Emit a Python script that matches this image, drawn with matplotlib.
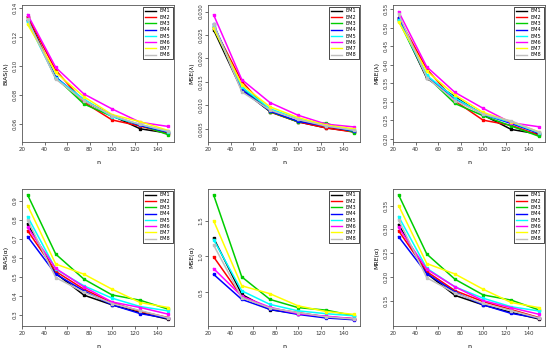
import matplotlib
matplotlib.use("Agg")
import matplotlib.pyplot as plt
from matplotlib.lines import Line2D

n = [25, 50, 75, 100, 125, 150]
methods = ["EM1", "EM2", "EM3", "EM4", "EM5", "EM6", "EM7", "EM8"]
colors = ["black", "#FF0000", "#00CD00", "#0000FF", "#00FFFF", "#FF00FF", "#FFFF00", "#BEBEBE"]

bias_lam = {
    "EM1": [0.1336, 0.0915, 0.0760, 0.0657, 0.0566, 0.0536],
    "EM2": [0.1340, 0.0970, 0.0749, 0.0627, 0.0585, 0.0531],
    "EM3": [0.1315, 0.0920, 0.0737, 0.0652, 0.0592, 0.0525],
    "EM4": [0.1313, 0.0922, 0.0764, 0.0657, 0.0589, 0.0542],
    "EM5": [0.1304, 0.0915, 0.0771, 0.0650, 0.0596, 0.0547],
    "EM6": [0.1354, 0.0989, 0.0806, 0.0703, 0.0611, 0.0582],
    "EM7": [0.1286, 0.0955, 0.0787, 0.0664, 0.0615, 0.0554],
    "EM8": [0.1320, 0.0909, 0.0760, 0.0657, 0.0596, 0.0549],
}
mse_lam = {
    "EM1": [0.0261, 0.0133, 0.0087, 0.0065, 0.0052, 0.0044],
    "EM2": [0.0268, 0.0151, 0.0086, 0.0065, 0.0052, 0.0043],
    "EM3": [0.0266, 0.0139, 0.0087, 0.0065, 0.0062, 0.0042],
    "EM4": [0.0273, 0.0134, 0.0088, 0.0066, 0.0056, 0.0045],
    "EM5": [0.0270, 0.0139, 0.0093, 0.0071, 0.0057, 0.0047],
    "EM6": [0.0293, 0.0155, 0.0106, 0.0079, 0.0060, 0.0054],
    "EM7": [0.0264, 0.0144, 0.0097, 0.0074, 0.0058, 0.0050],
    "EM8": [0.0273, 0.0129, 0.0090, 0.0070, 0.0056, 0.0047],
}
mre_lam = {
    "EM1": [0.523, 0.363, 0.313, 0.264, 0.225, 0.212],
    "EM2": [0.527, 0.388, 0.302, 0.250, 0.236, 0.209],
    "EM3": [0.519, 0.368, 0.295, 0.262, 0.234, 0.206],
    "EM4": [0.527, 0.368, 0.308, 0.266, 0.241, 0.214],
    "EM5": [0.520, 0.371, 0.310, 0.266, 0.244, 0.216],
    "EM6": [0.543, 0.394, 0.325, 0.282, 0.243, 0.232],
    "EM7": [0.515, 0.382, 0.318, 0.271, 0.246, 0.218],
    "EM8": [0.536, 0.365, 0.303, 0.266, 0.248, 0.217],
}
bias_alp = {
    "EM1": [0.777, 0.518, 0.404, 0.353, 0.312, 0.277],
    "EM2": [0.742, 0.528, 0.435, 0.365, 0.319, 0.286],
    "EM3": [0.930, 0.619, 0.488, 0.405, 0.377, 0.330],
    "EM4": [0.711, 0.514, 0.426, 0.353, 0.307, 0.282],
    "EM5": [0.816, 0.540, 0.453, 0.388, 0.344, 0.321],
    "EM6": [0.760, 0.544, 0.447, 0.368, 0.339, 0.304],
    "EM7": [0.874, 0.567, 0.514, 0.435, 0.365, 0.339],
    "EM8": [0.798, 0.496, 0.419, 0.360, 0.323, 0.284],
}
mse_alp = {
    "EM1": [1.257, 0.470, 0.256, 0.201, 0.155, 0.125],
    "EM2": [0.995, 0.435, 0.275, 0.215, 0.155, 0.130],
    "EM3": [1.860, 0.715, 0.400, 0.285, 0.250, 0.170],
    "EM4": [0.750, 0.400, 0.260, 0.190, 0.140, 0.115],
    "EM5": [1.234, 0.520, 0.330, 0.240, 0.200, 0.170],
    "EM6": [0.830, 0.445, 0.290, 0.200, 0.165, 0.130],
    "EM7": [1.500, 0.590, 0.480, 0.310, 0.230, 0.190],
    "EM8": [1.160, 0.425, 0.280, 0.215, 0.155, 0.125],
}
mre_alp = {
    "EM1": [0.310, 0.207, 0.161, 0.141, 0.125, 0.111],
    "EM2": [0.297, 0.211, 0.171, 0.148, 0.131, 0.114],
    "EM3": [0.3725, 0.248, 0.195, 0.162, 0.151, 0.130],
    "EM4": [0.2845, 0.207, 0.168, 0.141, 0.123, 0.113],
    "EM5": [0.327, 0.218, 0.179, 0.155, 0.137, 0.128],
    "EM6": [0.304, 0.216, 0.179, 0.150, 0.135, 0.121],
    "EM7": [0.350, 0.228, 0.206, 0.174, 0.146, 0.135],
    "EM8": [0.320, 0.198, 0.166, 0.144, 0.129, 0.113],
}

panels = [
    (bias_lam, "BIAS(λ)", (0.0475, 0.142), [0.06, 0.08, 0.10, 0.12, 0.14], "%.2f"),
    (mse_lam, "MSE(λ)", (0.0022, 0.0314), [0.005, 0.010, 0.015, 0.020, 0.025, 0.030], "%.3f"),
    (mre_lam, "MRE(λ)", (0.191, 0.561), [0.20, 0.25, 0.30, 0.35, 0.40, 0.45, 0.50, 0.55], "%.2f"),
    (bias_alp, "BIAS(α)", (0.242, 0.961), [0.3, 0.4, 0.5, 0.6, 0.7, 0.8, 0.9], "%.1f"),
    (mse_alp, "MSE(α)", (0.028, 1.944), [0.5, 1.0, 1.5], "%.1f"),
    (mre_alp, "MRE(α)", (0.0965, 0.385), [0.15, 0.20, 0.25, 0.30, 0.35], "%.2f"),
]

W, H = 550, 348
fig = plt.figure(figsize=(W / 100, H / 100), dpi=100)
lefts = [22, 208, 393]
rows = [(5, 142), (189, 326)]
aw = 152

handles = [Line2D([], [], color=c, lw=1.0) for c in colors]

for i, (data, ylab, ylim, yt, fmt) in enumerate(panels):
    top, bot = rows[i // 3]
    left = lefts[i % 3]
    ax = fig.add_axes([left / W, 1 - bot / H, aw / W, (bot - top) / H])
    for m, c in zip(methods, colors):
        ax.plot(n, data[m], color=c, lw=1.1, marker="s", ms=1.8)
    ax.set_xlim(20, 155)
    ax.set_ylim(*ylim)
    ax.set_xticks([20, 40, 60, 80, 100, 120, 140])
    ax.set_yticks(yt)
    ax.set_yticklabels([fmt % v for v in yt], rotation=90, va="center")
    ax.tick_params(labelsize=4, length=2, width=0.5, pad=1.5, colors="#333333")
    for s in ax.spines.values():
        s.set_linewidth(0.6)
        s.set_color("#555555")
    ax.set_xlabel("n", fontsize=4.5, labelpad=6)
    ax.set_ylabel(ylab, fontsize=4.5, labelpad=3)
    leg = ax.legend(handles, methods, loc="upper right", fontsize=3.6,
                    handlelength=2.2, borderpad=0.4, labelspacing=0.25,
                    fancybox=False, framealpha=1, borderaxespad=0.3,
                    handletextpad=0.8)
    leg.get_frame().set_edgecolor("black")
    leg.get_frame().set_linewidth(0.5)

fig.savefig("out.png", dpi=100)
